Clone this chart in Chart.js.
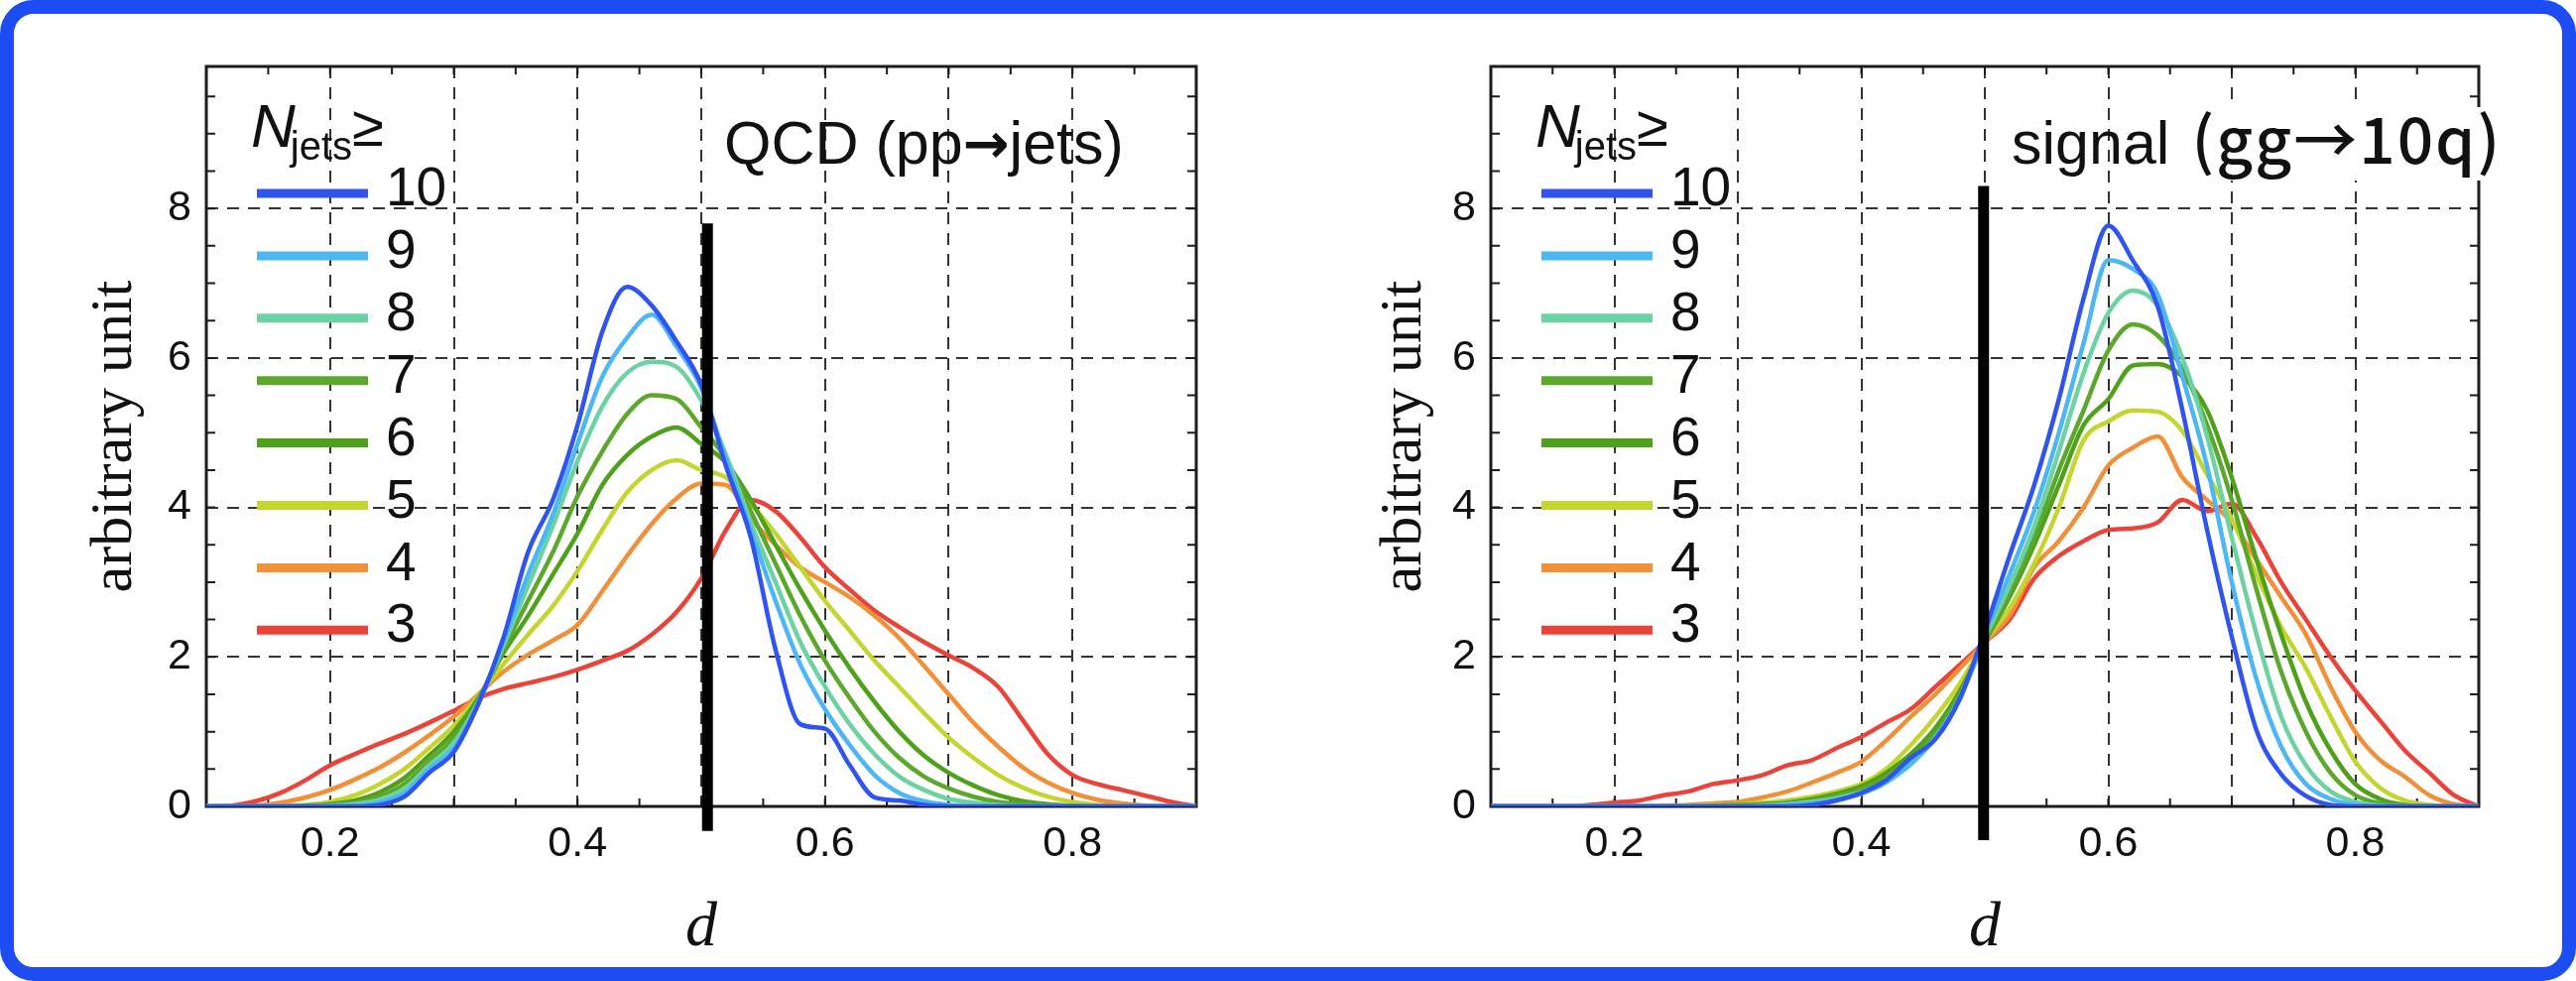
<!DOCTYPE html>
<html>
<head>
<meta charset="utf-8">
<script src="https://cdn.jsdelivr.net/npm/chart.js@4.4.1/dist/chart.umd.min.js"></script>
<style>
  html, body { margin: 0; padding: 0; background: #fff; }
  body { width: 2597px; height: 989px; position: relative; overflow: hidden; }
  .frame {
    position: absolute; left: 0; top: 0; width: 2597px; height: 989px;
    box-sizing: border-box; border: 14px solid #1d4cf2; border-radius: 34px;
  }
  canvas { position: absolute; top: 0; }
  #qcd { left: 0; }
  #sig { left: 1300px; }
</style>
</head>
<body>
<div class="frame"></div>
<canvas id="qcd" width="1300" height="989"></canvas>
<canvas id="sig" width="1297" height="989"></canvas>
<script>
// d values (bin positions shared by every curve)
const dValues = [0.10, 0.12, 0.14, 0.16, 0.18, 0.20, 0.22, 0.24, 0.26, 0.28,
                 0.30, 0.32, 0.34, 0.36, 0.38, 0.40, 0.42, 0.44, 0.46, 0.48,
                 0.50, 0.52, 0.54, 0.56, 0.58, 0.60, 0.62, 0.64, 0.66, 0.68,
                 0.70, 0.72, 0.74, 0.76, 0.78, 0.80, 0.82, 0.84, 0.86, 0.88, 0.90];

const njetsLabels = ["10", "9", "8", "7", "6", "5", "4", "3"];
const xTickLabels = [0.2, 0.4, 0.6, 0.8];
const yTickLabels = [0, 2, 4, 6, 8];

// QCD (pp -> jets)
const qcd10 = [0, 0, 0, 0, 0, 0, 0, 0.02, 0.13, 0.45, 0.73, 1.38, 2.25, 3.4, 4.1, 5.1, 6.35, 6.95, 6.7, 6.22,
               5.64, 4.55, 3.6, 2.1, 1.1, 1.04, 0.55, 0.12, 0.08, 0.02, 0, 0, 0, 0, 0, 0, 0, 0, 0, 0, 0];
const qcd9 = [0, 0, 0, 0, 0, 0, 0.01, 0.05, 0.18, 0.5, 0.78, 1.38, 2.2, 3.1, 3.9, 4.85, 5.75, 6.27, 6.58, 6.15,
              5.6, 4.65, 3.7, 2.75, 1.9, 1.3, 0.82, 0.42, 0.18, 0.07, 0.02, 0, 0, 0, 0, 0, 0, 0, 0, 0, 0];
const qcd8 = [0, 0, 0, 0, 0, 0.01, 0.03, 0.09, 0.24, 0.55, 0.85, 1.4, 2.15, 2.95, 3.75, 4.62, 5.35, 5.8, 5.95, 5.88,
              5.43, 4.7, 3.8, 3.0, 2.2, 1.6, 1.1, 0.7, 0.4, 0.22, 0.1, 0.05, 0.02, 0, 0, 0, 0, 0, 0, 0, 0];
const qcd7 = [0, 0, 0, 0, 0, 0.02, 0.05, 0.13, 0.3, 0.6, 0.92, 1.42, 2.1, 2.75, 3.4, 4.15, 4.75, 5.25, 5.5, 5.45,
              5.07, 4.65, 3.95, 3.25, 2.55, 1.95, 1.45, 1.0, 0.65, 0.4, 0.24, 0.13, 0.06, 0.03, 0.01, 0, 0, 0, 0, 0, 0];
const qcd6 = [0, 0, 0, 0, 0.01, 0.03, 0.08, 0.19, 0.38, 0.68, 1.0, 1.45, 2.05, 2.55, 3.1, 3.65, 4.3, 4.7, 4.95, 5.07,
              4.85, 4.6, 4.1, 3.5, 2.9, 2.35, 1.85, 1.4, 1.0, 0.68, 0.45, 0.28, 0.15, 0.07, 0.03, 0.01, 0, 0, 0, 0, 0];
const qcd5 = [0, 0, 0, 0.01, 0.02, 0.06, 0.15, 0.3, 0.5, 0.78, 1.08, 1.48, 1.9, 2.3, 2.68, 3.15, 3.7, 4.2, 4.5, 4.63,
              4.5, 4.4, 4.05, 3.65, 3.2, 2.75, 2.35, 1.95, 1.6, 1.25, 0.92, 0.65, 0.42, 0.25, 0.13, 0.06, 0.02, 0, 0, 0, 0];
const qcd4 = [0, 0, 0.01, 0.05, 0.12, 0.22, 0.36, 0.52, 0.72, 0.95, 1.2, 1.5, 1.8, 2.03, 2.22, 2.43, 2.88, 3.35, 3.78, 4.12,
              4.32, 4.3, 3.85, 3.5, 3.2, 3.0, 2.8, 2.55, 2.25, 1.88, 1.5, 1.12, 0.8, 0.52, 0.32, 0.18, 0.09, 0.04, 0.01, 0, 0];
const qcd3 = [0, 0.01, 0.07, 0.18, 0.35, 0.55, 0.7, 0.84, 0.97, 1.12, 1.28, 1.45, 1.57, 1.65, 1.73, 1.83, 1.95, 2.08, 2.3, 2.6,
              3.05, 3.7, 4.1, 3.95, 3.6, 3.2, 2.9, 2.62, 2.4, 2.2, 2.02, 1.85, 1.6, 1.15, 0.7, 0.42, 0.3, 0.22, 0.14, 0.06, 0];

// signal (gg -> 10q)
const sig10 = [0, 0, 0, 0, 0, 0, 0, 0, 0, 0, 0, 0, 0, 0.02, 0.08, 0.18, 0.35, 0.65, 0.9, 1.45,
               2.35, 3.35, 4.3, 5.45, 6.8, 7.77, 7.3, 6.69, 5.3, 3.7, 2.27, 1.02, 0.43, 0.14, 0.02, 0, 0, 0, 0, 0, 0];
const sig9 = [0, 0, 0, 0, 0, 0, 0, 0, 0, 0, 0, 0, 0.02, 0.04, 0.09, 0.17, 0.32, 0.58, 0.92, 1.45,
              2.3, 3.1, 3.95, 5.0, 6.2, 7.31, 7.19, 6.85, 5.75, 4.55, 3.0, 1.7, 0.8, 0.3, 0.1, 0.02, 0, 0, 0, 0, 0];
const sig8 = [0, 0, 0, 0, 0, 0, 0, 0, 0, 0, 0, 0.01, 0.03, 0.06, 0.11, 0.19, 0.33, 0.56, 0.92, 1.45,
              2.25, 2.95, 3.75, 4.75, 5.8, 6.6, 6.9, 6.7, 6.0, 4.95, 3.6, 2.3, 1.2, 0.55, 0.2, 0.06, 0.01, 0, 0, 0, 0];
const sig7 = [0, 0, 0, 0, 0, 0, 0, 0, 0, 0, 0.01, 0.02, 0.04, 0.08, 0.14, 0.23, 0.39, 0.63, 0.98, 1.5,
              2.2, 2.85, 3.6, 4.5, 5.3, 6.1, 6.45, 6.3, 5.85, 5.1, 4.1, 2.9, 1.8, 1.0, 0.45, 0.15, 0.04, 0.01, 0, 0, 0];
const sig6 = [0, 0, 0, 0, 0, 0, 0, 0, 0, 0.01, 0.02, 0.03, 0.05, 0.1, 0.17, 0.27, 0.45, 0.7, 1.05, 1.55,
              2.2, 2.8, 3.5, 4.3, 5.1, 5.45, 5.9, 5.92, 5.75, 5.3, 4.4, 3.3, 2.3, 1.4, 0.75, 0.3, 0.1, 0.02, 0, 0, 0];
const sig5 = [0, 0, 0, 0, 0, 0, 0, 0, 0.01, 0.02, 0.03, 0.05, 0.08, 0.13, 0.2, 0.3, 0.5, 0.82, 1.2, 1.65,
              2.2, 2.65, 3.25, 4.0, 4.9, 5.15, 5.3, 5.28, 5.02, 4.44, 3.85, 3.1, 2.4, 1.85, 1.2, 0.6, 0.25, 0.08, 0.02, 0, 0];
const sig4 = [0, 0, 0, 0, 0, 0, 0, 0.01, 0.02, 0.04, 0.06, 0.12, 0.2, 0.32, 0.45, 0.6, 0.88, 1.2, 1.5, 1.85,
              2.2, 2.55, 3.2, 3.55, 4.0, 4.56, 4.8, 4.95, 4.4, 4.1, 3.8, 3.3, 2.8, 2.3, 1.6, 1.0, 0.62, 0.4, 0.15, 0.03, 0];
const sig3 = [0, 0, 0, 0, 0.02, 0.05, 0.08, 0.15, 0.2, 0.3, 0.35, 0.42, 0.55, 0.62, 0.78, 0.93, 1.12, 1.3, 1.6, 1.9,
              2.2, 2.5, 3.05, 3.35, 3.55, 3.7, 3.72, 3.8, 4.1, 3.95, 4.05, 3.6, 3.0, 2.5, 2.0, 1.55, 1.15, 0.75, 0.45, 0.15, 0];

// black pen strokes crossing each panel (d position, y from/to)
const strokeQcdX = 0.505;
const strokeQcdY = [-0.33, 7.8];
const strokeSigX = 0.499;
const strokeSigY = [-0.45, 8.3];

const seriesColors = ["#2f55ee", "#4db6f4", "#6cd2a4", "#5ba82c", "#4fa11c", "#c3d52e", "#f0913a", "#e8443a"];
const sansFont = '"Liberation Sans", Arial, sans-serif';
const serifFont = '"Liberation Serif", "Times New Roman", serif';
const arrowFont = 'bold 56px "DejaVu Sans", sans-serif';

function onTenth(v) {
  return Math.abs(v * 10 - Math.round(v * 10)) < 1e-6;
}

// frame + inward tick marks, drawn under the curves
const frameTicks = {
  id: "frameTicks",
  beforeDatasetsDraw(chart) {
    const { ctx, chartArea: a, scales: { x, y } } = chart;
    ctx.save();
    ctx.strokeStyle = "#1c1c1c";
    ctx.lineWidth = 2;
    ctx.beginPath();
    x.ticks.forEach(t => {
      const px = x.getPixelForValue(t.value);
      ctx.moveTo(px, a.bottom); ctx.lineTo(px, a.bottom - 8);
      ctx.moveTo(px, a.top); ctx.lineTo(px, a.top + 8);
    });
    y.ticks.forEach(t => {
      const py = y.getPixelForValue(t.value);
      ctx.moveTo(a.left, py); ctx.lineTo(a.left + 9, py);
      ctx.moveTo(a.right, py); ctx.lineTo(a.right - 9, py);
    });
    ctx.stroke();
    ctx.lineWidth = 3;
    ctx.strokeRect(a.left, a.top, a.right - a.left, a.bottom - a.top);
    ctx.restore();
  }
};

// legend box "N_jets >=" and the panel caption
const panelText = {
  id: "panelText",
  afterDraw(chart) {
    const { ctx, chartArea: a } = chart;
    const opts = chart.options.plugins.panelText;
    ctx.save();
    ctx.fillStyle = "#111";
    ctx.textBaseline = "alphabetic";
    ctx.textAlign = "left";
    let x0 = a.left + 45;
    ctx.font = "italic 62px " + sansFont;
    ctx.fillText("N", x0, 148);
    x0 += ctx.measureText("N").width - 5;
    ctx.font = "40px " + sansFont;
    ctx.fillText("jets", x0, 161);
    x0 += ctx.measureText("jets").width;
    ctx.font = "58px " + sansFont;
    ctx.fillText("\u2265", x0, 147);

    chart.data.datasets.forEach((ds, i) => {
      if (ds.isStroke) return;
      const yy = 195 + i * 62.9;
      ctx.strokeStyle = ds.borderColor;
      ctx.lineWidth = 9;
      ctx.beginPath();
      ctx.moveTo(a.left + 51, yy);
      ctx.lineTo(a.left + 163, yy);
      ctx.stroke();
      ctx.fillStyle = "#111";
      ctx.font = "55px " + sansFont;
      ctx.textBaseline = "middle";
      ctx.fillText(ds.label, a.left + 181, yy - 3);
    });

    // caption pieces laid out left to right
    ctx.textBaseline = "alphabetic";
    let cx = a.left + opts.captionX;
    opts.caption.forEach(part => {
      ctx.font = part.font;
      ctx.letterSpacing = part.spacing || "0px";
      const w = ctx.measureText(part.text).width;
      if (part.boxed) {
        ctx.fillStyle = "#fff";
        ctx.fillRect(cx - 4, 108, w + 8, 74);
      }
      ctx.fillStyle = "#111";
      ctx.fillText(part.text, cx, 165 + (part.dy || 0));
      cx += w + (part.gap || 0);
    });
    ctx.letterSpacing = "0px";
    ctx.restore();
  }
};

function makeChart(id, series, stroke, caption, captionX, yAxisWidth, rightPad) {
  const datasets = series.map((vals, i) => ({
    label: njetsLabels[i],
    data: vals.map((v, k) => ({ x: dValues[k], y: v })),
    borderColor: seriesColors[i],
    borderWidth: 4.5,
    pointRadius: 0,
    cubicInterpolationMode: "monotone",
    fill: false
  }));
  datasets.push({
    label: "stroke",
    isStroke: true,
    data: stroke.y.map(v => ({ x: stroke.x, y: v })),
    borderColor: "#000",
    borderWidth: 11,
    pointRadius: 0,
    clip: false,
    order: -1
  });

  return new Chart(document.getElementById(id), {
    type: "line",
    data: { datasets },
    plugins: [frameTicks, panelText],
    options: {
      responsive: false,
      animation: false,
      layout: { padding: { left: 0, right: rightPad, top: 67, bottom: 0 } },
      plugins: {
        legend: { display: false },
        tooltip: { enabled: false },
        panelText: { caption, captionX }
      },
      scales: {
        x: {
          type: "linear",
          min: 0.1,
          max: 0.9,
          afterFit: s => { s.height = 176; },
          ticks: {
            stepSize: 0.05,
            autoSkip: false,
            maxRotation: 0,
            includeBounds: false,
            padding: 12,
            color: "#111",
            font: { family: sansFont, size: 43 },
            callback: v => xTickLabels.some(t => Math.abs(t - v) < 1e-6) ? v.toFixed(1) : ""
          },
          grid: {
            drawTicks: false,
            lineWidth: 2,
            color: c => (onTenth(c.tick.value) && c.tick.value > 0.15 && c.tick.value < 0.85) ? "#333" : "rgba(0,0,0,0)"
          },
          border: { display: false, dash: [12, 9] },
          title: {
            display: true,
            text: "d",
            color: "#111",
            font: { family: serifFont, size: 64, style: "italic" },
            padding: { top: 0, bottom: 14 }
          }
        },
        y: {
          type: "linear",
          min: 0,
          max: 9.9,
          afterFit: s => { s.width = yAxisWidth; },
          ticks: {
            stepSize: 0.5,
            autoSkip: false,
            includeBounds: false,
            padding: 15,
            color: "#111",
            font: { family: sansFont, size: 43 },
            callback: v => yTickLabels.includes(v) ? String(v) : ""
          },
          grid: {
            drawTicks: false,
            lineWidth: 2,
            color: c => ([2, 4, 6, 8].includes(c.tick.value)) ? "#333" : "rgba(0,0,0,0)"
          },
          border: { display: false, dash: [12, 9] },
          title: {
            display: true,
            text: "arbitrary unit",
            color: "#111",
            font: { family: serifFont, size: 60 },
            padding: { top: 80, bottom: 0 }
          }
        }
      }
    }
  });
}

makeChart("qcd",
  [qcd10, qcd9, qcd8, qcd7, qcd6, qcd5, qcd4, qcd3],
  { x: strokeQcdX, y: strokeQcdY },
  [{ text: "QCD (pp", font: "61px " + sansFont },
   { text: "\u2192", font: arrowFont, dy: -1 },
   { text: "jets)", font: "61px " + sansFont }],
  522, 208, 1300 - 1206);

makeChart("sig",
  [sig10, sig9, sig8, sig7, sig6, sig5, sig4, sig3],
  { x: strokeSigX, y: strokeSigY },
  [{ text: "signal", font: "61px " + sansFont, gap: 22 },
   { text: "(gg\u219210q)", font: '500 64px "Noto Sans CJK JP", "Noto Sans", sans-serif', spacing: "2px", boxed: true }],
  525, 203, 1297 - 1199);
</script>
</body>
</html>
